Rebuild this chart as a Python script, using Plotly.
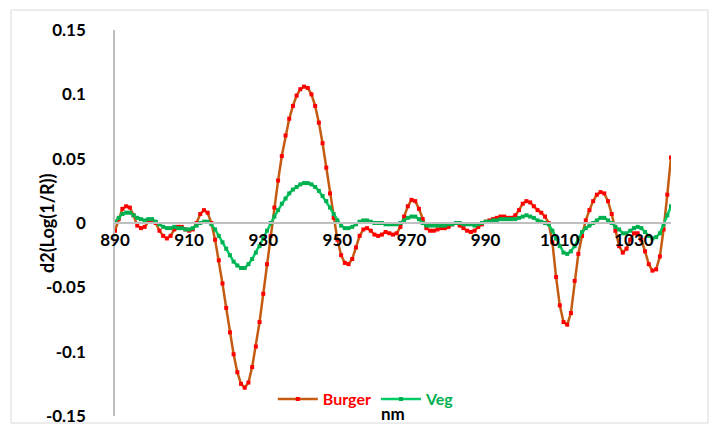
import plotly.graph_objects as go

wavelength = list(range(890, 1041))

burger = [
    -0.006, 0.003, 0.011, 0.013, 0.012, 0.006, -0.002, -0.004, -0.003, 0.001,
    0.002, 0.000, -0.006, -0.010, -0.012, -0.010, -0.005, -0.003, -0.003, -0.005,
    -0.006, -0.005, 0.000, 0.007, 0.010, 0.008, 0.000, -0.013, -0.029, -0.047,
    -0.066, -0.085, -0.102, -0.116, -0.125, -0.128, -0.124, -0.112, -0.096, -0.077,
    -0.055, -0.032, -0.010, 0.012, 0.033, 0.052, 0.068, 0.081, 0.091, 0.099,
    0.104, 0.106, 0.105, 0.100, 0.091, 0.078, 0.062, 0.043, 0.023, 0.004,
    -0.013, -0.025, -0.031, -0.032, -0.028, -0.019, -0.010, -0.005, -0.004, -0.006,
    -0.009, -0.010, -0.009, -0.007, -0.008, -0.009, -0.008, -0.003, 0.005, 0.013,
    0.018, 0.017, 0.011, 0.003, -0.004, -0.006, -0.006, -0.005, -0.004, -0.004,
    -0.003, -0.001, 0.000, -0.002, -0.004, -0.006, -0.007, -0.006, -0.003, -0.001,
    0.001, 0.002, 0.003, 0.004, 0.005, 0.005, 0.004, 0.004, 0.006, 0.010,
    0.015, 0.017, 0.016, 0.013, 0.010, 0.008, 0.005, 0.000, -0.015, -0.042,
    -0.064, -0.077, -0.079, -0.070, -0.045, -0.024, -0.010, 0.002, 0.010, 0.017,
    0.022, 0.024, 0.023, 0.017, 0.007, -0.006, -0.018, -0.023, -0.020, -0.013,
    -0.008, -0.008, -0.013, -0.022, -0.032, -0.037, -0.036, -0.026, -0.005, 0.022,
    0.051,
]

veg = [
    0.001, 0.004, 0.007, 0.008, 0.008, 0.006, 0.004, 0.003, 0.002, 0.003,
    0.003, 0.001, -0.001, -0.003, -0.004, -0.004, -0.003, -0.004, -0.004, -0.005,
    -0.005, -0.004, -0.002, 0.000, 0.001, 0.001, -0.001, -0.005, -0.010, -0.015,
    -0.020, -0.025, -0.030, -0.033, -0.035, -0.035, -0.032, -0.028, -0.023, -0.018,
    -0.012, -0.006, 0.000, 0.005, 0.010, 0.015, 0.019, 0.023, 0.026, 0.028,
    0.030, 0.031, 0.031, 0.030, 0.028, 0.025, 0.021, 0.017, 0.012, 0.007,
    0.002, -0.002, -0.004, -0.004, -0.003, -0.001, 0.001, 0.002, 0.002, 0.001,
    0.000, 0.000, 0.000, -0.001, -0.001, -0.001, -0.001, 0.000, 0.002, 0.004,
    0.005, 0.005, 0.003, 0.000, -0.002, -0.002, -0.002, -0.002, -0.002, -0.002,
    -0.001, -0.001, 0.000, 0.000, -0.001, -0.001, -0.001, -0.002, -0.001, 0.000,
    0.001, 0.001, 0.002, 0.002, 0.003, 0.003, 0.003, 0.003, 0.003, 0.004,
    0.005, 0.006, 0.005, 0.004, 0.002, 0.001, 0.000, -0.001, -0.006, -0.012,
    -0.018, -0.023, -0.024, -0.022, -0.018, -0.012, -0.007, -0.004, -0.002, 0.000,
    0.002, 0.004, 0.004, 0.002, 0.000, -0.003, -0.005, -0.008, -0.008, -0.006,
    -0.004, -0.003, -0.004, -0.007, -0.010, -0.012, -0.011, -0.008, -0.001, 0.006,
    0.013,
]

x_tick_vals = [890, 910, 930, 950, 970, 990, 1010, 1030]
y_tick_vals = [0.15, 0.1, 0.05, 0, -0.05, -0.1, -0.15]
y_tick_text = ["0.15", "0.1", "0.05", "0", "-0.05", "-0.1", "-0.15"]

FONT = "Lato, Calibri, Carlito, sans-serif"

fig = go.Figure()
fig.add_trace(go.Scatter(
    x=wavelength, y=burger, mode="lines+markers",
    name="<b><span style='color:#FF0000'>Burger</span></b>",
    line=dict(color="#C55A11", width=2.5),
    marker=dict(color="#FF0000", size=4, symbol="square"),
))
fig.add_trace(go.Scatter(
    x=wavelength, y=veg, mode="lines+markers",
    name="<b><span style='color:#00B050'>Veg</span></b>",
    line=dict(color="#00CC66", width=2.5),
    marker=dict(color="#00B050", size=4, symbol="square"),
))

fig.update_layout(
    width=712, height=426,
    margin=dict(l=115, r=41, t=30, b=10, autoexpand=False),
    paper_bgcolor="white", plot_bgcolor="white",
    font=dict(family=FONT, size=16, color="#000000"),
    showlegend=True,
    legend=dict(orientation="h", x=0.452, xanchor="center", y=0.044, yanchor="middle",
                bgcolor="rgba(0,0,0,0)", font=dict(size=16, family=FONT),
                itemwidth=40, tracegroupgap=0),
    xaxis=dict(
        range=[890, 1040], anchor="free", position=0.5, automargin=False,
        showline=True, linecolor="#BFBFBF", linewidth=1.5,
        showgrid=False, zeroline=False,
        tickvals=x_tick_vals, ticks="",
        tickfont=dict(size=17, family=FONT, color="#000000", weight="bold"),
        ticklabelstandoff=2,
    ),
    yaxis=dict(
        range=[-0.15, 0.15], automargin=False,
        showline=True, linecolor="#BFBFBF", linewidth=1.5,
        showgrid=False, zeroline=False,
        tickvals=y_tick_vals, ticktext=y_tick_text, ticks="",
        tickfont=dict(size=17, family=FONT, color="#000000", weight="bold"),
        ticklabelstandoff=24,
    ),
    annotations=[
        dict(text="<b>d2(Log(1/R))</b>", textangle=-90, xref="paper", yref="paper",
             x=(47 - 115) / 556, y=0.5, xanchor="center", yanchor="middle",
             showarrow=False, font=dict(size=18, family=FONT, color="#000000")),
        dict(text="<b>nm</b>", xref="paper", yref="paper",
             x=(393 - 115) / 556, y=(416 - 413) / 386, xanchor="center", yanchor="middle",
             showarrow=False, font=dict(size=17, family=FONT, color="#000000")),
    ],
    shapes=[
        dict(type="rect", xref="paper", yref="paper",
             x0=(11 - 115) / 556, x1=(708 - 115) / 556,
             y0=(416 - 423) / 386, y1=(416 - 10) / 386,
             line=dict(color="#D9D9D9", width=1), fillcolor="rgba(0,0,0,0)", layer="below"),
    ],
)

fig.write_html("out.html", config={"displayModeBar": False},
               post_script="document.body.style.margin='0';document.body.style.overflow='hidden';")
